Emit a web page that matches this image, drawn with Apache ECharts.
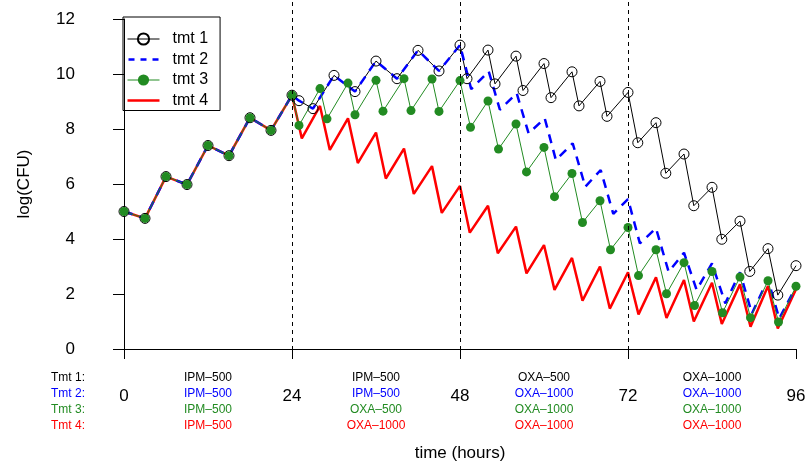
<!DOCTYPE html>
<html lang="en">
  <head>
    <meta charset="UTF-8" />
    <title>log(CFU) by treatment</title>
    <script src="https://cdn.jsdelivr.net/npm/echarts@6/dist/echarts.min.js"></script>
  </head>
  <body style="margin:0">
    <div id="main" style="width: 808px;height:464px;"></div>
    <script type="text/javascript">
      // first 24 h: every arm gets IPM-500, so all four curves are the same
      var phase1 = [[0, 5.0], [3, 4.75], [6, 6.27], [9, 5.98], [12, 7.4], [15, 7.03], [18, 8.41], [21, 7.95], [24, 9.23]];

      // tmt 1 (black, open circles)
      var tmt1 = phase1.concat([
        [25, 9.03], [27, 8.74], [30, 9.95], [33, 9.36], [36, 10.47], [39, 9.83], [42, 10.86], [45, 10.11], [48, 11.05],
        [49, 9.83], [52, 10.87], [53, 9.64], [56, 10.65], [57, 9.4], [60, 10.38], [61, 9.14], [64, 10.08], [65, 8.84], [68, 9.73], [69, 8.46], [72, 9.33],
        [73.4, 7.5], [76, 8.23], [77.4, 6.39], [80, 7.09], [81.4, 5.21], [84, 5.88], [85.4, 3.99], [88, 4.65], [89.4, 2.82], [92, 3.65], [93.4, 1.96], [96, 3.03]
      ]);

      // tmt 2 (blue dashed)
      var tmt2 = phase1.concat([
        [25, 9.03], [27, 8.74], [30, 9.95], [33, 9.36], [36, 10.47], [39, 9.83], [42, 10.86], [45, 10.11], [48, 11.05],
        [49.6, 9.45], [52.1, 10.1], [53.7, 8.7], [56.1, 9.3], [57.8, 7.84], [60.1, 8.39], [61.7, 6.87], [64.1, 7.48], [65.9, 5.9], [68.1, 6.51], [69.9, 4.91], [72, 5.45],
        [73.7, 3.84], [76, 4.39], [77.8, 2.81], [80, 3.5], [81.8, 2.15], [84, 3.11], [85.9, 1.66], [88, 2.79], [89.7, 1.29], [92, 2.53], [93.6, 1.11], [96, 2.26]
      ]);

      // tmt 3 (green, filled circles)
      var tmt3 = phase1.concat([
        [25, 8.13], [28, 9.47], [29, 8.37], [32, 9.67], [33, 8.52], [36, 9.77], [37, 8.65], [40, 9.83], [41, 8.67], [44, 9.82], [45, 8.64], [48, 9.76],
        [49.5, 8.06], [52, 9.02], [53.5, 7.27], [56, 8.18], [57.5, 6.44], [60, 7.33], [61.5, 5.54], [64, 6.38], [65.5, 4.6], [68, 5.39], [69.5, 3.61], [72, 4.42],
        [73.5, 2.67], [76, 3.61], [77.5, 2.01], [80, 3.14], [81.5, 1.58], [84, 2.82], [85.5, 1.32], [88, 2.62], [89.5, 1.14], [92, 2.48], [93.5, 0.98], [96, 2.28]
      ]);

      // tmt 4 (red)
      var tmt4 = phase1.concat([
        [25.4, 7.66], [28, 8.84], [29.4, 7.24], [32, 8.39], [33.4, 6.76], [36, 7.87], [37.4, 6.2], [40, 7.29], [41.4, 5.64], [44, 6.65], [45.4, 4.95], [48, 5.93],
        [49.4, 4.23], [52, 5.21], [53.4, 3.48], [56, 4.45], [57.5, 2.75], [60, 3.78], [61.5, 2.15], [64, 3.31], [65.5, 1.76], [68, 3.0], [69.4, 1.47], [72, 2.79],
        [73.5, 1.26], [76, 2.61], [77.5, 1.13], [80, 2.51], [81.4, 1.0], [84, 2.41], [85.4, 0.91], [88, 2.35], [89.5, 0.81], [92, 2.29], [93.4, 0.75], [96, 2.17]
      ]);

      var switchTimes = [24, 48, 72];
      var xTicks = [0, 24, 48, 72, 96];
      var yTicks = [0, 2, 4, 6, 8, 10, 12];

      // regimen per 24 h block, one list per treatment
      var blockMid = [12, 36, 60, 84];
      var reg1 = ["IPM–500", "IPM–500", "OXA–500", "OXA–1000"];
      var reg2 = ["IPM–500", "IPM–500", "OXA–1000", "OXA–1000"];
      var reg3 = ["IPM–500", "OXA–500", "OXA–1000", "OXA–1000"];
      var reg4 = ["IPM–500", "OXA–1000", "OXA–1000", "OXA–1000"];

      var GREEN = "#228B22";
      var FONT = "Liberation Sans, Arial, sans-serif";

      // legend icons for the plain line series (no symbol in the middle)
      var BOUNDS = "M0,0h0.01v0.01h-0.01z M31.99,13.99h0.01v0.01h-0.01z ";
      var solidIcon = "path://" + BOUNDS + "M0,5.75h32v2.5h-32z";
      var dashIcon = "path://" + BOUNDS + "M1,5.75h6v2.5h-6z M13,5.75h6v2.5h-6z M25,5.75h6v2.5h-6z";

      var myChart = echarts.init(document.getElementById("main"));

      var option = {
        animation: false,
        textStyle: { fontFamily: FONT },
        legend: {
          orient: "vertical",
          left: 123,
          top: 17,
          data: [
            { name: "tmt 1", lineStyle: { width: 1 } },
            { name: "tmt 2", icon: dashIcon },
            { name: "tmt 3", lineStyle: { width: 1 } },
            { name: "tmt 4", icon: solidIcon },
          ],
          borderColor: "#000",
          borderWidth: 1,
          padding: [14, 12, 2, 4],
          itemWidth: 32,
          itemHeight: 14,
          itemGap: 4.5,
          textStyle: { fontSize: 16, color: "#000", padding: [0, 0, 0, 8] },
        },
        graphic: [
          { type: "text", right: 808 - 85, top: 372, style: { text: "Tmt 1:", fill: "#000", font: "12px " + FONT } },
          { type: "text", right: 808 - 85, top: 388, style: { text: "Tmt 2:", fill: "#0000ff", font: "12px " + FONT } },
          { type: "text", right: 808 - 85, top: 404, style: { text: "Tmt 3:", fill: GREEN, font: "12px " + FONT } },
          { type: "text", right: 808 - 85, top: 420, style: { text: "Tmt 4:", fill: "#ff0000", font: "12px " + FONT } },
        ],
        grid: [
          { left: 124, right: 12, top: 19, bottom: 115, outerBoundsMode: "none" },
          { left: 124, right: 12, top: 0, bottom: 106, outerBoundsMode: "none" },
        ],
        xAxis: [
          {
            type: "value",
            gridIndex: 0,
            position: "bottom",
            offset: 13,
            min: 0,
            max: 96,
            interval: 24,
            splitLine: { show: false },
            axisLine: { lineStyle: { color: "#000", width: 1 } },
            axisTick: { length: 10, lineStyle: { color: "#000" } },
            axisLabel: {
              fontSize: 17,
              color: "#000",
              margin: 26,
              formatter: function (v) {
                return xTicks.indexOf(v) >= 0 ? String(v) : "";
              },
            },
            name: "time (hours)",
            nameLocation: "middle",
            nameGap: 83,
            nameTextStyle: { fontSize: 17, color: "#000" },
          },
          {
            // regimen labels under each 24 h block
            type: "value",
            gridIndex: 0,
            position: "bottom",
            offset: 13,
            min: 0,
            max: 96,
            interval: 12,
            splitLine: { show: false },
            axisLine: { show: false },
            axisTick: { show: false },
            axisLabel: {
              margin: 8,
              showMinLabel: true,
              showMaxLabel: true,
              formatter: function (v) {
                var i = blockMid.indexOf(v);
                if (i < 0) return "";
                return "{a|" + reg1[i] + "}\n{b|" + reg2[i] + "}\n{c|" + reg3[i] + "}\n{d|" + reg4[i] + "}";
              },
              rich: {
                a: { fontSize: 12, lineHeight: 16, color: "#000" },
                b: { fontSize: 12, lineHeight: 16, color: "#0000ff" },
                c: { fontSize: 12, lineHeight: 16, color: GREEN },
                d: { fontSize: 12, lineHeight: 16, color: "#ff0000" },
              },
            },
          },
          {
            type: "value",
            gridIndex: 1,
            min: 0,
            max: 96,
            show: false,
          },
        ],
        yAxis: [
          {
            type: "value",
            gridIndex: 0,
            min: 0,
            max: 12,
            interval: 2,
            offset: 27,
            splitLine: { show: false },
            axisLine: { show: true, lineStyle: { color: "#000", width: 1 } },
            axisTick: { show: true, length: 11, lineStyle: { color: "#000" } },
            axisLabel: {
              fontSize: 17,
              color: "#000",
              margin: 22,
              formatter: function (v) {
                return yTicks.indexOf(v) >= 0 ? String(v) : "";
              },
            },
            name: "log(CFU)",
            nameLocation: "middle",
            nameRotate: 90,
            nameGap: 64,
            nameTextStyle: { fontSize: 17, color: "#000" },
          },
          {
            type: "value",
            gridIndex: 1,
            min: 0,
            max: 1,
            show: false,
          },
        ],
        series: [
          {
            // dashed regimen-switch lines
            name: "switch",
            type: "line",
            xAxisIndex: 2,
            yAxisIndex: 1,
            data: [],
            silent: true,
            markLine: {
              silent: true,
              symbol: "none",
              label: { show: false },
              lineStyle: { color: "#000", width: 1, type: [4, 4] },
              data: switchTimes.map(function (t) {
                return { xAxis: t };
              }),
            },
          },
          {
            name: "tmt 1",
            type: "line",
            data: tmt1,
            clip: false,
            symbol: "circle",
            symbolSize: 10,
            itemStyle: { color: "rgba(0,0,0,0)", borderColor: "#000", borderWidth: 1 },
            lineStyle: { color: "#000", width: 1 },
          },
          {
            name: "tmt 4",
            type: "line",
            data: tmt4,
            clip: false,
            symbol: "none",
            itemStyle: { color: "#ff0000" },
            lineStyle: { color: "#ff0000", width: 2.5 },
          },
          {
            name: "tmt 2",
            type: "line",
            data: tmt2,
            clip: false,
            symbol: "none",
            itemStyle: { color: "#0000ff" },
            lineStyle: { color: "#0000ff", width: 2.5, type: [9, 7] },
          },
          {
            name: "tmt 3",
            type: "line",
            data: tmt3,
            clip: false,
            symbol: "circle",
            symbolSize: 9,
            itemStyle: { color: GREEN, borderWidth: 0 },
            lineStyle: { color: GREEN, width: 1 },
          },
        ],
      };

      myChart.setOption(option);
    </script>
  </body>
</html>
